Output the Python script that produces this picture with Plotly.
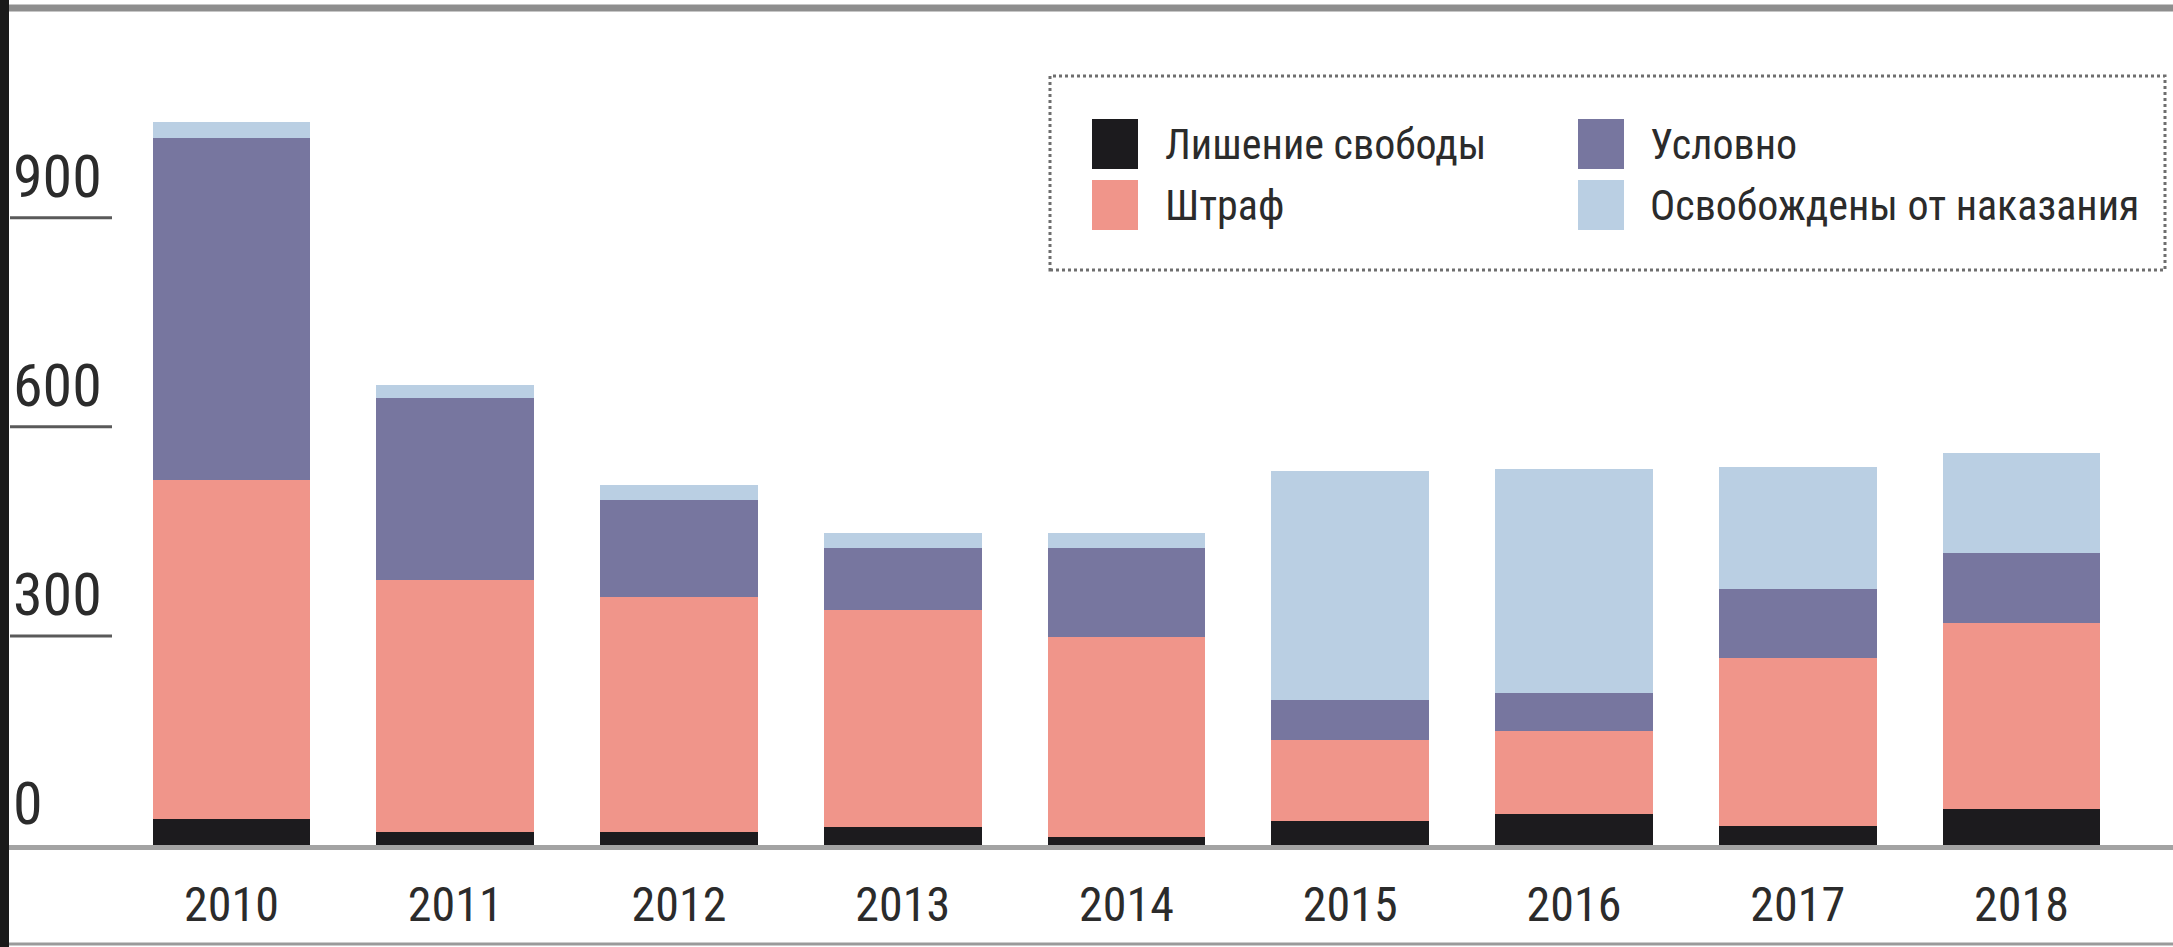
import plotly.graph_objects as go

# ---------------- data ----------------
years = ["2010", "2011", "2012", "2013", "2014", "2015", "2016", "2017", "2018"]
series_names = ["Лишение свободы", "Штраф", "Условно", "Освобождены от наказания"]
prison = [37, 18, 18, 26, 11, 34, 45, 27, 51]
fine = [487, 362, 338, 311, 288, 117, 118, 241, 267]
conditional = [490, 261, 139, 89, 127, 57, 55, 100, 101]
released = [24, 19, 22, 21, 21, 328, 321, 175, 143]
y_ticks = [0, 300, 600, 900]

colors = ["#1c1b1e", "#f0958a", "#77769f", "#bacfe3"]
values = [prison, fine, conditional, released]

# ---------------- layout constants (pixels) ----------------
W, H = 2173, 947
PH = 845           # plot-area height (baseline at 845 px from top)
MB = H - PH
PX_PER_UNIT = 0.697
CAT_STEP = 223.75
FIRST_CENTER = 231.5

FONT = "Liberation Sans Narrow, Arial Narrow, Roboto Condensed, DejaVu Sans Condensed, Liberation Sans, sans-serif"
TXT = "#2b2b2b"


def fx(p):
    return p / W


def fy(p):
    return (PH - p) / PH


fig = go.Figure()
for name, vals, col in zip(series_names, values, colors):
    fig.add_trace(go.Bar(
        x=years, y=vals, name=name,
        marker=dict(color=col, line=dict(width=0)),
        showlegend=False,
    ))

shapes = []
annotations = []

# y tick underlines + labels
for t in y_ticks:
    if t != 0:
        shapes.append(dict(type="line", xref="paper", yref="y",
                           x0=fx(10), x1=fx(112), y0=t, y1=t,
                           line=dict(color="#5a5a5a", width=3)))
    annotations.append(dict(xref="paper", yref="y", x=fx(11), y=t,
                            text=str(t), showarrow=False,
                            xanchor="left", yanchor="bottom", yshift=4,
                            font=dict(family=FONT, size=60, color=TXT)))

# legend (manual, large swatches, dotted frame)
shapes.append(dict(type="rect", xref="paper", yref="paper",
                   x0=fx(1050), x1=fx(2165), y0=fy(270), y1=fy(76),
                   line=dict(color="#6e6e6e", width=3, dash="dot"),
                   fillcolor="rgba(0,0,0,0)"))
legend_order = [0, 2, 1, 3]
col_sw = [1092, 1578]
col_tx = [1163, 1648]
row_top = [119, 180]
for k, idx in enumerate(legend_order):
    r, c = divmod(k, 2)
    shapes.append(dict(type="rect", xref="paper", yref="paper",
                       x0=fx(col_sw[c]), x1=fx(col_sw[c] + 46),
                       y0=fy(row_top[r] + 50), y1=fy(row_top[r]),
                       line=dict(width=0), fillcolor=colors[idx]))
    annotations.append(dict(xref="paper", yref="paper",
                            x=fx(col_tx[c]), y=fy(row_top[r] + 25),
                            text=series_names[idx], showarrow=False,
                            xanchor="left", yanchor="middle",
                            font=dict(family=FONT, size=42, color=TXT)))

# page decorations: top rule, bottom rule, dark left edge
shapes.append(dict(type="line", xref="paper", yref="paper",
                   x0=0, x1=1, y0=fy(8), y1=fy(8),
                   line=dict(color="#8e8e8e", width=7)))
shapes.append(dict(type="line", xref="paper", yref="paper",
                   x0=0, x1=1, y0=fy(944), y1=fy(944),
                   line=dict(color="#9a9a9a", width=3)))
shapes.append(dict(type="rect", xref="paper", yref="paper",
                   x0=0, x1=fx(9), y0=fy(H), y1=fy(0),
                   line=dict(width=0), fillcolor="#1a1a1a"))

x_lo = -FIRST_CENTER / CAT_STEP
x_hi = (W - FIRST_CENTER) / CAT_STEP

fig.update_layout(
    width=W, height=H,
    margin=dict(l=0, r=0, t=0, b=MB, pad=0),
    barmode="stack",
    bargap=0.294,
    plot_bgcolor="white",
    paper_bgcolor="white",
    shapes=shapes,
    annotations=annotations,
    xaxis=dict(
        type="category", range=[x_lo, x_hi],
        showgrid=False, zeroline=False,
        showline=True, linecolor="#a3a3a3", linewidth=5,
        ticks="outside", ticklen=13, tickcolor="rgba(0,0,0,0)",
        tickfont=dict(family=FONT, size=48, color=TXT),
    ),
    yaxis=dict(
        range=[0, PH / PX_PER_UNIT],
        showgrid=False, zeroline=False, showline=False,
        showticklabels=False, ticks="",
    ),
)

fig.write_html(
    "out.html",
    config={"displayModeBar": False},
    post_script="document.body.style.margin='0';document.body.style.overflow='hidden';",
)
